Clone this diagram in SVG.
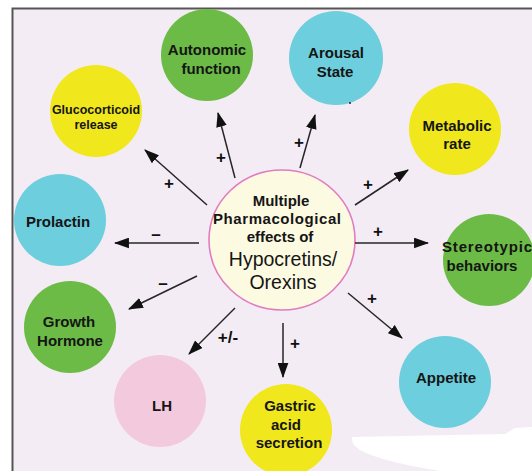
<svg xmlns="http://www.w3.org/2000/svg" width="532" height="471" viewBox="0 0 532 471">
<defs>
<style>
.bg{fill:#f4ecf4}
.yel{fill:#f0e81c}
.grn{fill:#6cbb47}
.cyn{fill:#6dcedd}
.pnk{fill:#f3c9de}
.ctr{fill:#fdfae2;stroke:#e07cc2;stroke-width:1.6}
.t{font-family:"Liberation Sans",Arial,sans-serif;font-weight:bold;font-size:15px;fill:#151515;text-anchor:middle}
.small{font-size:12.5px}
.big{font-weight:normal;font-size:19.5px}
.lbl{font-family:"Liberation Sans",Arial,sans-serif;font-weight:bold;font-size:17px;fill:#111;text-anchor:middle}
.c line{stroke:#262626;stroke-width:1.5;marker-end:url(#ah)}
</style>
<marker id="ah" viewBox="0 0 14 10" refX="13" refY="5" markerWidth="15" markerHeight="11" markerUnits="userSpaceOnUse" orient="auto">
<path d="M0,0 L14,5 L0,10 Z" fill="#111"/>
</marker>
</defs>
<rect x="0" y="0" width="532" height="471" fill="#ffffff"/>
<rect class="bg" x="12" y="8" width="520" height="463"/>
<path d="M12.5,471 L12.5,8.5 L532,8.5" fill="none" stroke="#555" stroke-width="2"/>
<path d="M352,437 L505,434 L515,428 L532,427 L532,471 L440,471 Q390,463 366,453 Q350,446 352,437 Z" fill="#ffffff"/>

<g id="autonomic"><circle class="grn" cx="207" cy="55" r="46"/><text class="t" x="207" y="55">Autonomic</text><text class="t" x="211" y="74">function</text></g>
<g id="arousal"><circle class="cyn" cx="336" cy="58" r="47"/><text class="t" x="336" y="58">Arousal</text><text class="t" x="335" y="77">State</text><circle cx="350" cy="103" r="1" fill="#223"/></g>
<g id="glucocorticoid"><circle class="yel" cx="96" cy="111" r="46"/><text class="t small" x="96" y="114">Glucocorticoid</text><text class="t small" x="96" y="129">release</text></g>
<g id="metabolic"><circle class="yel" cx="455" cy="129" r="46"/><text class="t" x="457" y="131">Metabolic</text><text class="t" x="457" y="149">rate</text></g>
<g id="prolactin"><circle class="cyn" cx="60" cy="220" r="46"/><text class="t" x="58" y="227">Prolactin</text></g>
<g id="stereotypic"><circle class="grn" cx="489" cy="260" r="46"/><text class="t" x="442" y="252" style="text-anchor:start" textLength="90" lengthAdjust="spacing">Stereotypic</text><text class="t" x="482" y="271">behaviors</text></g>
<g id="growth"><circle class="grn" cx="70" cy="327" r="46"/><text class="t" x="69" y="327">Growth</text><text class="t" x="70" y="346">Hormone</text></g>
<g id="lh"><circle class="pnk" cx="160" cy="401" r="46"/><text class="t" x="162" y="411">LH</text></g>
<g id="gastric"><circle class="yel" cx="286" cy="430" r="46"/><text class="t" x="290" y="411">Gastric</text><text class="t" x="286" y="430">acid</text><text class="t" x="289" y="448">secretion</text></g>
<g id="appetite"><circle class="cyn" cx="445" cy="382" r="46"/><text class="t" x="446" y="383">Appetite</text></g>
<g id="center"><ellipse class="ctr" cx="282" cy="240" rx="73" ry="70"/><text class="t" x="281" y="206">Multiple</text><text class="t" x="277" y="224" textLength="128" lengthAdjust="spacing">Pharmacological</text><text class="t" x="280" y="242">effects of</text><text class="t big" x="283" y="266">Hypocretins/</text><text class="t big" x="283" y="289">Orexins</text></g>

<g id="connectors" class="c">
<line x1="207" y1="205" x2="145" y2="150"/>
<line x1="235" y1="178" x2="218" y2="113"/>
<line x1="300" y1="168" x2="315" y2="115"/>
<line x1="355" y1="205" x2="408" y2="170"/>
<line x1="199" y1="243" x2="115" y2="243"/>
<line x1="355" y1="243" x2="428" y2="243"/>
<line x1="197" y1="276" x2="129" y2="309"/>
<line x1="235" y1="308" x2="189" y2="354"/>
<line x1="283" y1="323" x2="283" y2="377"/>
<line x1="348" y1="293" x2="402" y2="338"/>
</g>
<g id="labels">
<text class="lbl" x="169" y="189">+</text>
<text class="lbl" x="221" y="163">+</text>
<text class="lbl" x="299" y="148">+</text>
<text class="lbl" x="368" y="190">+</text>
<text class="lbl" x="156" y="240">–</text>
<text class="lbl" x="378" y="237">+</text>
<text class="lbl" x="163" y="289">–</text>
<text class="lbl" x="228" y="343">+/-</text>
<text class="lbl" x="295" y="349">+</text>
<text class="lbl" x="372" y="304">+</text>
</g>
</svg>
